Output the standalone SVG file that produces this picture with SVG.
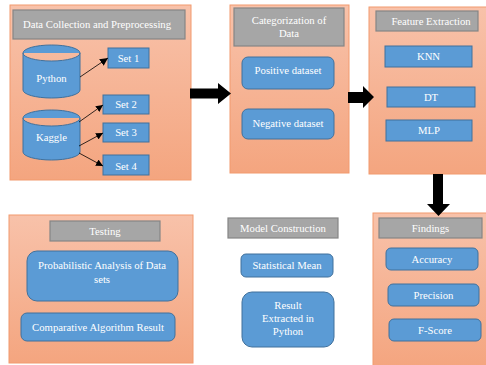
<svg xmlns="http://www.w3.org/2000/svg" width="486" height="365" viewBox="0 0 486 365">
<defs>
<linearGradient id="pg" x1="0" y1="0" x2="0" y2="1">
<stop offset="0" stop-color="#f8c2aa"/>
<stop offset="1" stop-color="#f4a57f"/>
</linearGradient>
<marker id="ah" viewBox="0 0 10 10" refX="10" refY="5" markerWidth="7" markerHeight="7" markerUnits="userSpaceOnUse" orient="auto">
<path d="M0,0 L10,5 L0,10 z" fill="#000"/>
</marker>
<marker id="ah2" viewBox="0 0 10 10" refX="10" refY="5" markerWidth="8" markerHeight="8" markerUnits="userSpaceOnUse" orient="auto">
<path d="M0,0 L10,5 L0,10 z" fill="#000"/>
</marker>
<style>
.panel{fill:url(#pg);stroke:#f29a6e;stroke-width:1}
.title{fill:#a6a6a6;stroke:#858585;stroke-width:1.2}
.box{fill:#5b9bd5;stroke:#41719c;stroke-width:1}
.t{font-family:"Liberation Serif","Times New Roman",serif;fill:#fff;text-anchor:middle;font-size:10.7px}
.ln{stroke:#000;stroke-width:0.8;fill:none}
.blk{fill:#000}
</style>
</defs>
<rect width="486" height="365" fill="#fff"/>

<g id="data-collection">
<rect class="panel" x="10" y="5" width="181" height="175"/>
<rect class="title" x="13" y="10" width="172" height="29"/>
<text class="t" x="97" y="28" font-size="11.3">Data Collection and Preprocessing</text>
</g>
<g id="python">
<path class="box" d="M23,53 a28.5,8 0 0 1 57,0 v37 a28.5,8 0 0 1 -57,0 z M23,53 a28.5,8 0 0 0 57,0"/>
<text class="t" x="51.5" y="82" font-size="8.5">Python</text>
</g>
<g id="kaggle">
<path class="box" d="M23,118 a28.5,8 0 0 1 57,0 v34 a28.5,8 0 0 1 -57,0 z M23,118 a28.5,8 0 0 0 57,0"/>
<text class="t" x="51.5" y="141" font-size="9">Kaggle</text>
</g>
<g id="set1"><rect class="box" x="108" y="48" width="41" height="20"/><text class="t" x="128.5" y="61.5" font-size="10">Set 1</text></g>
<g id="set2"><rect class="box" x="103" y="95" width="46" height="19"/><text class="t" x="126" y="108" font-size="10">Set 2</text></g>
<g id="set3"><rect class="box" x="103" y="123" width="46" height="19"/><text class="t" x="126" y="136" font-size="10">Set 3</text></g>
<g id="set4"><rect class="box" x="103" y="155" width="46" height="20"/><text class="t" x="126" y="170" font-size="10">Set 4</text></g>

<g id="categorization">
<rect class="panel" x="230" y="5" width="119" height="168"/>
<rect class="title" x="234" y="8" width="110" height="38"/>
<text class="t" x="289" y="23.5">Categorization of</text>
<text class="t" x="289" y="37">Data</text>
</g>
<g id="positive"><rect class="box" x="242" y="57" width="92" height="32" rx="6"/><text class="t" x="288" y="73.5">Positive dataset</text></g>
<g id="negative"><rect class="box" x="242" y="109" width="92" height="30" rx="6"/><text class="t" x="288" y="126.5">Negative dataset</text></g>

<g id="feature-extraction">
<rect class="panel" x="369" y="7" width="122" height="167"/>
<rect class="title" x="376" y="11" width="102" height="20"/>
<text class="t" x="431" y="24.5">Feature Extraction</text>
</g>
<g id="knn"><rect class="box" x="385" y="46" width="87" height="21"/><text class="t" x="428.5" y="60">KNN</text></g>
<g id="dt"><rect class="box" x="387" y="87" width="88" height="20"/><text class="t" x="431" y="100.5">DT</text></g>
<g id="mlp"><rect class="box" x="386" y="120" width="86" height="21"/><text class="t" x="429" y="134">MLP</text></g>

<g id="testing">
<rect class="panel" x="9" y="215" width="184" height="148"/>
<rect class="title" x="50" y="221" width="110" height="20"/>
<text class="t" x="105" y="234.5">Testing</text>
</g>
<g id="probabilistic"><rect class="box" x="27" y="251" width="151" height="50" rx="10"/><text class="t" x="102" y="268.5">Probabilistic Analysis of Data</text><text class="t" x="102" y="282.5">sets</text></g>
<g id="comparative"><rect class="box" x="21" y="313" width="154" height="28" rx="6"/><text class="t" x="98" y="330.5" font-size="11">Comparative Algorithm Result</text></g>

<g id="model-construction">
<rect class="title" x="228" y="218" width="110" height="20"/>
<text class="t" x="283" y="231.5">Model Construction</text>
</g>
<g id="statistical-mean"><rect class="box" x="241" y="254" width="92" height="23" rx="5"/><text class="t" x="287" y="269">Statistical Mean</text></g>
<g id="result-extracted"><rect class="box" x="242" y="292" width="92" height="55" rx="10"/><text class="t" x="288" y="309">Result</text><text class="t" x="288" y="322">Extracted in</text><text class="t" x="288" y="335">Python</text></g>

<g id="findings">
<rect class="panel" x="373" y="213" width="120" height="155"/>
<rect class="title" x="379" y="218" width="103" height="20"/>
<text class="t" x="430.5" y="231.5">Findings</text>
</g>
<g id="accuracy"><rect class="box" x="386" y="248" width="92" height="22" rx="5"/><text class="t" x="432" y="262.5">Accuracy</text></g>
<g id="precision"><rect class="box" x="388" y="284" width="91" height="22" rx="5"/><text class="t" x="433.5" y="298.5">Precision</text></g>
<g id="fscore"><rect class="box" x="389" y="319" width="92" height="22" rx="5"/><text class="t" x="435" y="333.5">F-Score</text></g>

<g id="connectors">
<line class="ln" x1="80" y1="77" x2="108" y2="58" stroke-width="1.6" marker-end="url(#ah2)"/>
<line class="ln" x1="79" y1="122" x2="103" y2="105" marker-end="url(#ah)"/>
<line class="ln" x1="79" y1="146" x2="103" y2="133" marker-end="url(#ah)"/>
<line class="ln" x1="79" y1="153" x2="103" y2="166" marker-end="url(#ah)"/>
<polygon class="blk" points="190,88.5 218,88.5 218,83 231,93.5 218,104 218,98.5 190,98.5"/>
<polygon class="blk" points="348,92 363,92 363,86 374,97 363,108 363,103 348,103"/>
<polygon class="blk" points="433,174 443,174 443,204 450,204 438.5,216 427,204 433,204"/>
</g>
</svg>
